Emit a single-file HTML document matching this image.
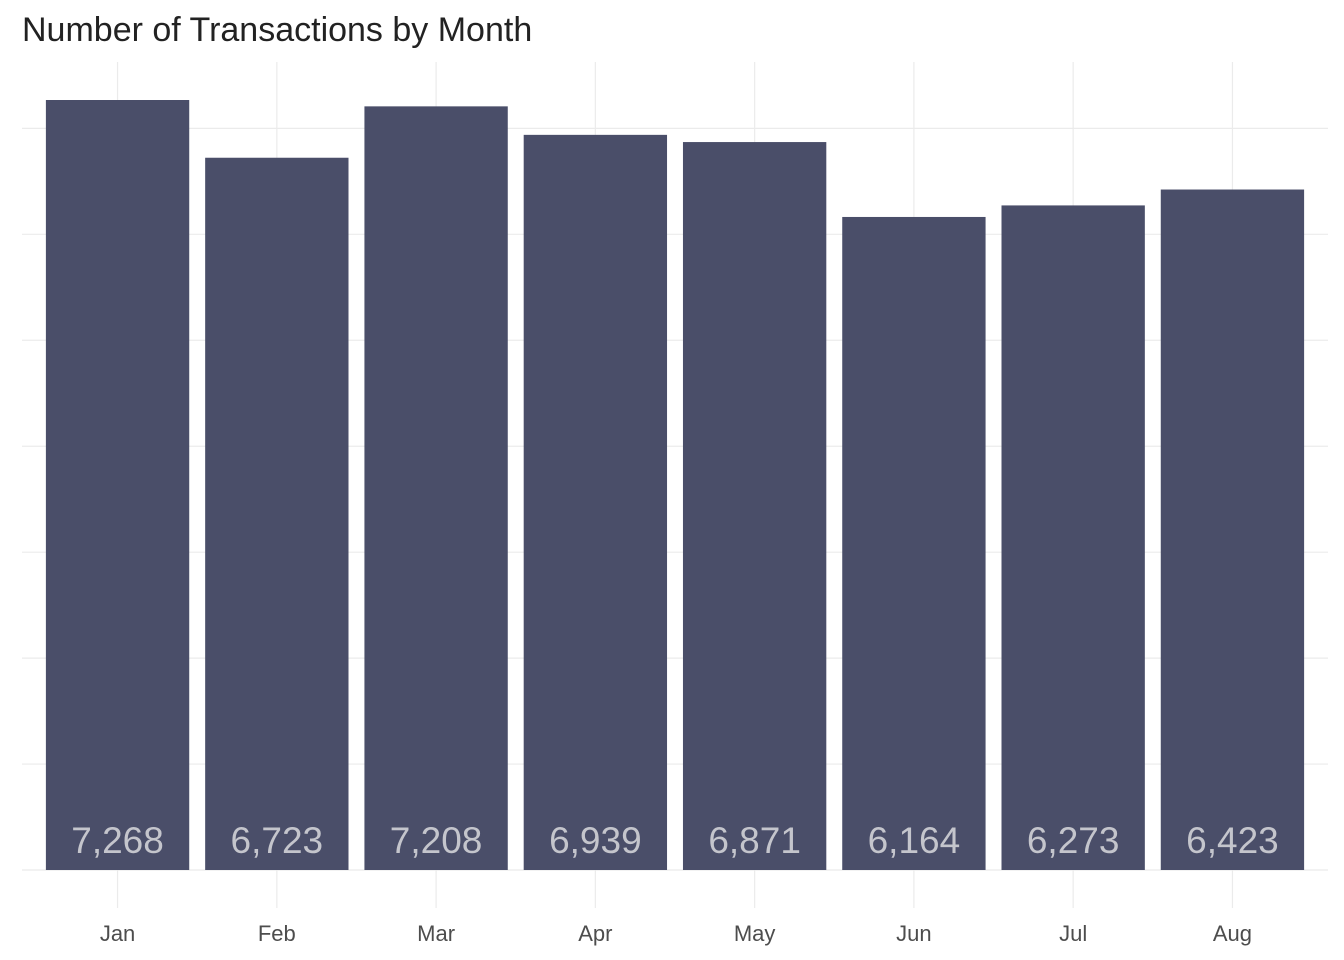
<!DOCTYPE html>
<html><head><meta charset="utf-8"><style>
html,body{margin:0;padding:0;background:#fff;}
svg{display:block;font-family:"Liberation Sans",Arial,sans-serif;}
</style></head><body>
<svg id="chart" width="1344" height="960">
<text x="22" y="41" font-size="34" fill="#222">Number of Transactions by Month</text>
<g id="grid"></g><g id="bars"></g><g id="labels"></g><g id="xaxis"></g>
</svg>
<script>
const categories=["Jan","Feb","Mar","Apr","May","Jun","Jul","Aug"];
const values=[7268,6723,7208,6939,6871,6164,6273,6423];
const valueLabels=["7,268","6,723","7,208","6,939","6,871","6,164","6,273","6,423"];
const yTicks=[0,1000,2000,3000,4000,5000,6000,7000];
(function(){
const plotLeft=22,plotRight=1328,plotTop=62,base=870,pxPerUnit=770/7268;
const band=(plotRight-plotLeft)/(categories.length+0.2);
const xC=i=>plotLeft+band*(i+0.6);
const yS=v=>base-v*pxPerUnit;
const ns="http://www.w3.org/2000/svg";
function mk(t,a,p){const e=document.createElementNS(ns,t);for(const k in a)e.setAttribute(k,a[k]);document.getElementById(p).appendChild(e);return e;}
yTicks.forEach(t=>{
 const l=mk("line",{x1:plotLeft,x2:plotRight,y1:yS(t),y2:yS(t),stroke:"#ebebeb","stroke-width":1.2},"grid");
 
 
});
categories.forEach((c,i)=>{
 const g=mk("line",{x1:xC(i),x2:xC(i),y1:plotTop,y2:908,stroke:"#ebebeb","stroke-width":1.2},"grid");
 
 
 const w=band*0.9;
 const r=mk("rect",{x:xC(i)-w/2,y:yS(values[i]),width:w,height:base-yS(values[i]),fill:"#4a4e69"},"bars");
 
 
 const t=mk("text",{x:xC(i),y:853,"text-anchor":"middle","font-size":37,fill:"#c4c5cc"},"labels");
 t.textContent=valueLabels[i];
 
 
 const x=mk("text",{x:xC(i),y:941,"text-anchor":"middle","font-size":22,fill:"#4d4d4d"},"xaxis");
 x.textContent=c;
 
 
});
})();
</script>
</body></html>
